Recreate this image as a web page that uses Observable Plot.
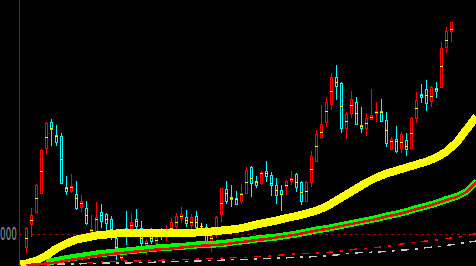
<!DOCTYPE html>
<html><head><meta charset="utf-8">
<script src="https://cdn.jsdelivr.net/npm/d3@7"></script>
<script src="https://cdn.jsdelivr.net/npm/@observablehq/plot@0.6"></script>
<style>html,body{margin:0;padding:0;background:#000;overflow:hidden}</style>
</head><body><div id="chart"></div>
<script>
// Daily candles (index 0..85)
const open = [987,1010,1022,1041,1086,1112,1099,1098,1047,1043, 1040,1027,1026,1000,1001,1022,1020,1015,996,976, 1006,1006,1015,1006,989,999,991,1002,998,1004, 1008,1016,1017,1009,1018,1008,1007,992,999,1020, 1045,1037,1036,1033,1041,1067,1053,1051,1063,1059, 1049,1044,1048,1053,1060,1052,1033,1052,1073,1097, 1112,1130,1157,1151,1106,1121,1132,1109,1106,1115, 1121,1123,1114,1085,1095,1086,1094,1086,1116,1140, 1145,1133,1146,1147,1187,1203];
const close = [1006,1019,1049,1084,1111,1105,1092,1051,1043,1048, 1026,1033,1011,1005,1017,1013,1011,1004,985,979, 998,1012,1008,991,993,993,997,1000,1004,1012, 1018,1020,1011,1017,1007,1008,992,998,1017,1046, 1033,1035,1030,1041,1064,1051,1049,1062,1058,1049, 1039,1040,1053,1056,1047,1033,1052,1078,1100,1110, 1132,1157,1148,1106,1120,1135,1110,1106,1116,1119, 1123,1113,1091,1095,1083,1100,1085,1116,1134,1137, 1131,1147,1143,1186,1203,1212];
const high = [1007,1026,1050,1085,1112,1115,1109,1101,1058,1060, 1053,1039,1033,1019,1032,1030,1021,1018,1004,982, 1023,1021,1025,1013,995,1006,1001,1006,1009,1016, 1021,1027,1024,1020,1023,1011,1010,1000,1018,1046, 1053,1049,1043,1050,1067,1068,1058,1063,1073,1062, 1056,1049,1054,1063,1061,1053,1053,1083,1104,1129, 1137,1161,1169,1152,1122,1143,1137,1127,1121,1145, 1132,1135,1122,1097,1108,1102,1101,1117,1142,1150, 1154,1148,1152,1192,1207,1212];
const low = [981,997,1021,1040,1080,1088,1088,1050,1039,1041, 1024,1022,1009,998,1000,1006,1004,994,974,973, 989,1002,1005,988,979,990,988,994,993,998, 1005,1011,1007,1005,1004,1004,990,982,996,1012, 1030,1027,1029,1030,1040,1037,1046,1049,1052,1038, 1030,1023,1039,1049,1042,1029,1032,1047,1073,1095, 1107,1124,1134,1101,1095,1116,1109,1101,1098,1114, 1112,1112,1087,1084,1081,1081,1078,1086,1111,1131, 1123,1127,1136,1147,1181,1192];
const avg = [996,1014,1036,1063,1097,1106,1098,1075,1046,1047, 1036,1031,1019,1004,1015,1019,1015,1005,987,977, 1002,1009,1013,996,991,996,994,1001,1001,1006, 1012,1018,1014,1012,1012,1008,999,996,1001,1031, 1041,1036,1035,1040,1052,1056,1052,1061,1061,1051, 1044,1040,1049,1055,1052,1042,1043,1065,1088,1102, 1123,1143,1152,1128,1113,1129,1121,1108,1111,1117, 1122,1122,1104,1093,1093,1092,1088,1101,1126,1139, 1139,1138,1145,1168,1194,1205];

// Moving averages, sampled every 2 days
const maYellow = [970,971,974,979,986,991,995,997,999,1000,1001,1001.5,1001.5,1001.5,1001.5,1001.5,1001.5,1001.5,1002,1002.5,1003.5,1004.5,1005.5,1007.5,1010,1012,1014,1016.5,1018.5,1021,1024,1028,1034,1040,1046,1052,1057,1061,1064,1067,1070,1073,1077,1083,1092,1105,1118];
const maGreen = [972,974,976,977.5,979,980.5,981.5,982.5,983.5,984.5,985.5,986.5,987,988,988.5,989.5,990,990.5,991.5,993,994,995.5,996.5,997.5,999,1000.5,1002.5,1004.5,1006,1008,1010,1012,1014,1016,1018.5,1020.5,1023,1026,1028.5,1031.5,1035,1038,1043,1053];
const maRed = [969.5,970,971,972,974,975.5,977,978.5,980,981,982,983,984,985,985.5,986.5,987.5,988.5,989,989.5,990.5,992,993,994.5,995.5,997,998.5,1000,1002,1004,1005.5,1007.5,1009.5,1011.5,1013.5,1015.5,1018,1020,1022.5,1025.5,1028,1031,1034.5,1037.5,1042.5,1052.5];
const maRedDash = [972,972,972.5,973,973.5,973.5,974,974,974.5,975,975,975.5,976,976,976.5,977,977,978,978,979,980,980.5,981,981.5,982,983,984,985.5,986,987,988,989.5,991.5,992.5,993.5,994.5,996,997,999,1001];
const maGray = [970.5,970.5,970.5,971,971,971.5,971.5,971.5,972,972,972.3,972.7,973,973.2,973.5,974,974,974.5,975,975,975.5,976,976.3,976.7,977.2,977.5,978,978.7,979.5,981,981.7,982,982.5,983,984,984.7,985.5,987,987.5,989,990.5,992,993.5];
const refLevel = 1000;

const candles = open.map((o, i) => ({
  i, o, c: close[i], h: high[i], l: low[i], m: avg[i],
  col: close[i] > o ? "#ff0000" : close[i] < o ? "#00ffff" : "#ffffff"
}));
const pts = (start, vals, first) => vals.map((v, k) => ({i: (first !== undefined && k === 0) ? first : start + 2 * (first !== undefined ? k - 1 : k), v}));
const yellowPts = pts(0, maYellow, -1.2);
const greenPts = pts(4, maGreen);
const redPts = pts(0, maRed);
const redDashPts = pts(12, maRedDash);
const grayPts = pts(6, maGray);

const chart = Plot.plot({
  width: 476, height: 266,
  marginLeft: 19, marginRight: 0, marginTop: 0, marginBottom: 0,
  style: "background:#000; shape-rendering:crispEdges;",
  x: {domain: [-1.4, 90], axis: null},
  y: {domain: [968, 1234], label: null},
  marks: [
    Plot.ruleX([-1.4], {stroke: "#b80000", strokeWidth: 1}),
    Plot.ruleY([refLevel], {stroke: "#a00000", strokeDasharray: "3,3"}),
    Plot.ruleX(candles, {x: "i", y1: "l", y2: "h", stroke: "col", strokeWidth: 1}),
    Plot.rect(candles, {x1: d => d.i - 0.2, x2: d => d.i + 0.2, y1: "o", y2: "c", fill: "#000", stroke: "col", strokeWidth: 1}),
    Plot.ruleY(candles, {x1: d => d.i - 0.3, x2: d => d.i + 0.3, y: "m", stroke: "#ffff00", strokeWidth: 1.5}),
    Plot.line(grayPts, {x: "i", y: "v", stroke: "#c8c8c8", strokeWidth: 1.5, strokeDasharray: "8,6,3,6", strokeLinecap: "butt"}),
    Plot.line(redDashPts, {x: "i", y: "v", stroke: "#ff0000", strokeWidth: 1.5, strokeDasharray: "7,7,3,7", strokeLinecap: "butt"}),
    Plot.line(yellowPts, {x: "i", y: "v", stroke: "#ffff00", strokeWidth: 8, strokeLinecap: "butt", clip: "frame"}),
    Plot.line(greenPts, {x: "i", y: "v", stroke: "#00ff00", strokeWidth: 7, strokeLinecap: "butt"}),
    Plot.line(redPts, {x: "i", y: "v", stroke: "#ff0000", strokeWidth: 2.5, strokeLinecap: "butt"}),
    Plot.axisY({ticks: [refLevel], tickSize: 0, tickPadding: 2.5, tickFormat: "d", label: null, fill: "#8c9ab0", fontSize: 18, fontFamily: "DejaVu Sans"})
  ]
});
chart.querySelectorAll('[aria-label="y-axis tick label"] text').forEach(t => {
  t.setAttribute("textLength", "22.5");
  t.setAttribute("lengthAdjust", "spacingAndGlyphs");
});
document.getElementById("chart").appendChild(chart);
</script>
</body></html>
